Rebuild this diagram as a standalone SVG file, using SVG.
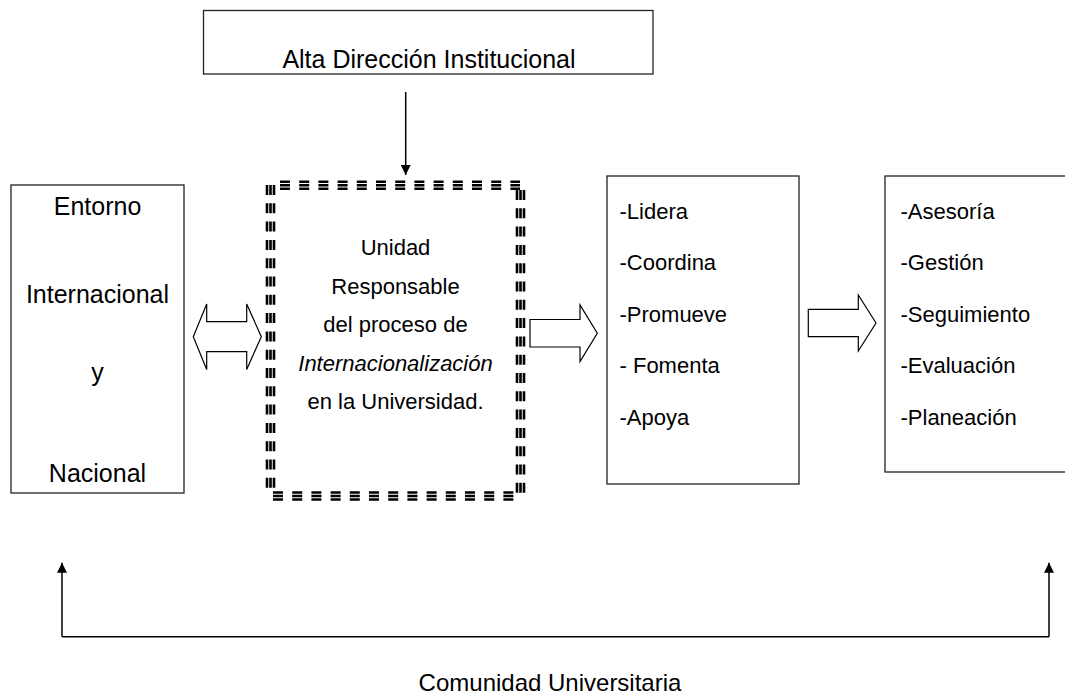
<svg xmlns="http://www.w3.org/2000/svg" width="1065" height="698" viewBox="0 0 1065 698">
<defs>
<style>
.box{fill:#fff;stroke:#222;stroke-width:1.3}
.t{font-family:"Liberation Sans",Arial,sans-serif;fill:#000}
.big{font-size:25px}
.mid{font-size:22px}
.dh{stroke:#000;stroke-width:2.6;stroke-dasharray:10 9.2;fill:none}
.dv{stroke:#000;stroke-width:2.6;stroke-dasharray:10 8.3;fill:none}
.ln{stroke:#000;stroke-width:1.5;fill:none}
.blk{fill:#fff;stroke:#000;stroke-width:1.2;stroke-linejoin:miter}
</style>
<marker id="ah" viewBox="0 0 10 10" refX="10" refY="5" markerWidth="10" markerHeight="10" markerUnits="userSpaceOnUse" orient="auto">
<path d="M0,0 L10,5 L0,10 Z" fill="#000"/>
</marker>
</defs>
<rect width="1065" height="698" fill="#fff"/>

<g id="alta-direccion">
<rect class="box" x="203.5" y="10.5" width="449.5" height="63.5"/>
<text class="t big" text-anchor="middle" x="429" y="68">Alta Dirección Institucional</text>
</g>

<g id="entorno">
<rect class="box" x="11" y="185" width="173" height="308"/>
<text class="t big" text-anchor="middle" x="97.5" y="215">Entorno</text>
<text class="t big" text-anchor="middle" x="97.5" y="303">Internacional</text>
<text class="t big" text-anchor="middle" x="97.5" y="381">y</text>
<text class="t big" text-anchor="middle" x="97.5" y="482">Nacional</text>
</g>

<g id="unidad">
<g class="dh">
<line x1="280" y1="181.8" x2="520" y2="181.8"/>
<line x1="280" y1="185.3" x2="520" y2="185.3"/>
<line x1="280" y1="188.8" x2="520" y2="188.8"/>
<line x1="273" y1="492.5" x2="514" y2="492.5"/>
<line x1="273" y1="496" x2="514" y2="496"/>
<line x1="273" y1="499.5" x2="514" y2="499.5"/>
</g>
<g class="dv">
<line x1="267" y1="185" x2="267" y2="489"/>
<line x1="270.5" y1="185" x2="270.5" y2="489"/>
<line x1="274" y1="185" x2="274" y2="489"/>
<line x1="517" y1="190" x2="517" y2="494"/>
<line x1="520.5" y1="190" x2="520.5" y2="494"/>
<line x1="524" y1="190" x2="524" y2="494"/>
</g>
<text class="t mid" text-anchor="middle" x="395.5" y="255">Unidad</text>
<text class="t mid" text-anchor="middle" x="395.5" y="293.5">Responsable</text>
<text class="t mid" text-anchor="middle" x="395.5" y="332">del proceso de</text>
<text class="t mid" text-anchor="middle" x="395.5" y="370.5" font-style="italic">Internacionalización</text>
<text class="t mid" text-anchor="middle" x="395.5" y="409">en la Universidad.</text>
</g>

<g id="acciones">
<rect class="box" x="607" y="176" width="192" height="308"/>
<text class="t mid" x="619.5" y="218.5">-Lidera</text>
<text class="t mid" x="619.5" y="270">-Coordina</text>
<text class="t mid" x="619.5" y="321.5">-Promueve</text>
<text class="t mid" x="619.5" y="373">- Fomenta</text>
<text class="t mid" x="619.5" y="425">-Apoya</text>
</g>

<g id="funciones">
<rect class="box" x="885" y="176" width="190" height="296"/>
<text class="t mid" x="900.5" y="218.5">-Asesoría</text>
<text class="t mid" x="900.5" y="270">-Gestión</text>
<text class="t mid" x="900.5" y="321.5">-Seguimiento</text>
<text class="t mid" x="900.5" y="373">-Evaluación</text>
<text class="t mid" x="900.5" y="425">-Planeación</text>
</g>

<g id="comunidad">
<text class="t" font-size="24" text-anchor="middle" x="550" y="691">Comunidad Universitaria</text>
</g>

<g id="connectors">
<line class="ln" x1="405.7" y1="92" x2="405.7" y2="175" marker-end="url(#ah)"/>
<path class="blk" d="M193.3,336.7 L206.7,304 L206.7,321.7 L246.7,321.7 L246.7,304 L261.3,336.7 L246.7,369.4 L246.7,351.7 L206.7,351.7 L206.7,369.4 Z"/>
<path class="blk" d="M530,319.5 L580,319.5 L580,305 L597.3,333.3 L580,361.6 L580,347 L530,347 Z"/>
<path class="blk" d="M808.3,309.3 L858.3,309.3 L858.3,295 L876,323 L858.3,351 L858.3,336.7 L808.3,336.7 Z"/>
<path class="ln" d="M62,636.7 L1049,636.7"/>
<line class="ln" x1="62" y1="636.7" x2="62" y2="562.7" marker-end="url(#ah)"/>
<line class="ln" x1="1049" y1="636.7" x2="1049" y2="562.7" marker-end="url(#ah)"/>
</g>
</svg>
